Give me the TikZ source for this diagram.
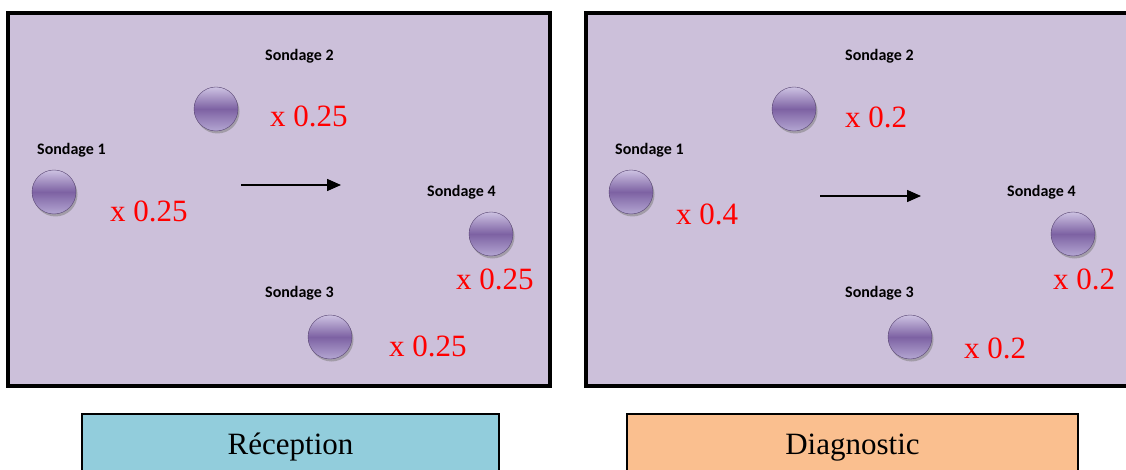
\documentclass[tikz,border=0pt]{standalone}
\usepackage{fontspec}
\setmainfont{Liberation Serif}
\newfontfamily\calib{Carlito}
\usetikzlibrary{arrows.meta,shadows}
\definecolor{panelbg}{RGB}{204,192,218}
\definecolor{recep}{RGB}{146,205,220}
\definecolor{diag}{RGB}{250,191,143}
\definecolor{ballmid}{RGB}{125,98,163}
\definecolor{balltop}{RGB}{205,194,226}
\definecolor{ballbot}{RGB}{180,166,210}
\tikzset{
  panel/.style={draw=black, line width=4pt, fill=panelbg},
  ball/.style={circle, minimum size=44pt, inner sep=0pt, top color=balltop, bottom color=ballbot, middle color=ballmid, draw=ballmid!70!black, line width=0.4pt, drop shadow={opacity=0.55, shadow xshift=1.5pt, shadow yshift=-2.5pt}},
  lbl/.style={font=\calib\bfseries\fontsize{16}{18}\selectfont, inner sep=0pt, anchor=base west},
  val/.style={text=red, font=\fontsize{31}{34}\selectfont, inner sep=0pt, anchor=base west},
  phase/.style={draw=black, line width=1.5pt, inner sep=0pt},
  ptext/.style={font=\fontsize{31}{34}\selectfont, inner sep=0pt, anchor=base},
  flow/.style={line width=1.5pt, -{Triangle[length=14pt,width=12pt]}}
}
\begin{document}
\begin{tikzpicture}[x=1pt,y=-1pt]
\useasboundingbox (0,0) rectangle (1126,470);
\fill[white] (0,0) rectangle (1126,470);
\clip (0,0) rectangle (1126,470);
% panels
\draw[panel] (8,13) rectangle (550,386);
\draw[panel] (585.5,13) rectangle (1135,386);
% left panel
\node[ball] (a1) at (54,192) {};
\node[ball] (a2) at (216,109) {};
\node[ball] (a3) at (330,337) {};
\node[ball] (a4) at (491,234) {};
\node[lbl] (la1) at (37,155) {Sondage 1};
\node[lbl] (la2) at (265,61) {Sondage 2};
\node[lbl] (la3) at (265,297) {Sondage 3};
\node[lbl] (la4) at (427,197) {Sondage 4};
\node[val] (va1) at (110,222) {x 0.25};
\node[val] (va2) at (270,127) {x 0.25};
\node[val] (va3) at (389,356) {x 0.25};
\node[val] (va4) at (456,289) {x 0.25};
\coordinate (as) at (241,185);
\coordinate (ae) at (341,185);
\draw[flow] (as) -- (ae);
% right panel
\node[ball] (b1) at (631,192) {};
\node[ball] (b2) at (794,109) {};
\node[ball] (b3) at (910,337) {};
\node[ball] (b4) at (1073,234) {};
\node[lbl] (lb1) at (615,155) {Sondage 1};
\node[lbl] (lb2) at (845,61) {Sondage 2};
\node[lbl] (lb3) at (845,297) {Sondage 3};
\node[lbl] (lb4) at (1007,197) {Sondage 4};
\node[val] (vb1) at (676,225) {x 0.4};
\node[val] (vb2) at (845,128) {x 0.2};
\node[val] (vb3) at (964,358) {x 0.2};
\node[val] (vb4) at (1053,289) {x 0.2};
\coordinate (bs) at (820,196);
\coordinate (be) at (921,196);
\draw[flow] (bs) -- (be);
% phases
\draw[phase, fill=recep] (82,414) rectangle (499,480);
\draw[phase, fill=diag] (627,414) rectangle (1078,480);
\node[ptext] (rec) at (290.5,454) {Réception};
\node[ptext] (dia) at (852.5,454) {Diagnostic};
\end{tikzpicture}
\end{document}
